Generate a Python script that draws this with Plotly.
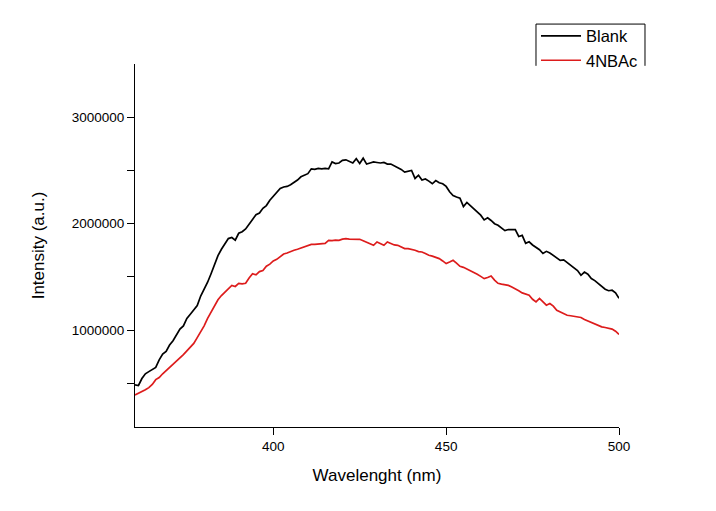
import plotly.graph_objects as go

wavelength = list(range(360, 501))

blank = [
    485000, 480000, 545000, 590000, 610000, 630000, 650000, 720000, 775000, 800000,
    860000, 900000, 950000, 1010000, 1040000, 1110000, 1150000, 1190000, 1230000, 1320000,
    1380000, 1450000, 1530000, 1620000, 1700000, 1760000, 1810000, 1860000, 1870000, 1845000,
    1910000, 1925000, 1950000, 1990000, 2040000, 2085000, 2100000, 2145000, 2170000, 2220000,
    2260000, 2300000, 2330000, 2345000, 2350000, 2365000, 2385000, 2410000, 2440000, 2455000,
    2470000, 2515000, 2510000, 2520000, 2515000, 2520000, 2515000, 2580000, 2565000, 2570000,
    2595000, 2600000, 2585000, 2570000, 2610000, 2565000, 2615000, 2560000, 2570000, 2580000,
    2575000, 2570000, 2575000, 2560000, 2560000, 2545000, 2525000, 2510000, 2485000, 2490000,
    2500000, 2425000, 2455000, 2410000, 2420000, 2400000, 2375000, 2405000, 2385000, 2375000,
    2350000, 2300000, 2265000, 2250000, 2240000, 2160000, 2200000, 2170000, 2140000, 2110000,
    2080000, 2035000, 2055000, 2030000, 2000000, 1985000, 1960000, 1935000, 1945000, 1945000,
    1945000, 1880000, 1890000, 1815000, 1830000, 1800000, 1780000, 1755000, 1720000, 1740000,
    1725000, 1700000, 1680000, 1655000, 1660000, 1635000, 1610000, 1585000, 1560000, 1515000,
    1545000, 1525000, 1485000, 1465000, 1440000, 1415000, 1385000, 1370000, 1375000, 1350000,
    1300000,
]

nbac = [
    390000, 405000, 420000, 440000, 460000, 490000, 535000, 555000, 590000, 620000,
    645000, 680000, 710000, 735000, 770000, 805000, 840000, 875000, 930000, 985000,
    1040000, 1110000, 1170000, 1230000, 1285000, 1325000, 1355000, 1390000, 1420000, 1410000,
    1440000, 1435000, 1440000, 1490000, 1530000, 1520000, 1550000, 1560000, 1600000, 1620000,
    1650000, 1665000, 1690000, 1715000, 1725000, 1740000, 1750000, 1760000, 1770000, 1780000,
    1790000, 1805000, 1805000, 1810000, 1812000, 1815000, 1843000, 1840000, 1845000, 1843000,
    1855000, 1860000, 1855000, 1855000, 1858000, 1853000, 1840000, 1828000, 1810000, 1797000,
    1828000, 1810000, 1797000, 1828000, 1815000, 1800000, 1797000, 1780000, 1766000, 1766000,
    1760000, 1750000, 1738000, 1734000, 1720000, 1703000, 1695000, 1685000, 1672000, 1650000,
    1625000, 1640000, 1656000, 1630000, 1600000, 1590000, 1575000, 1562000, 1540000, 1525000,
    1505000, 1484000, 1495000, 1509000, 1470000, 1440000, 1432000, 1425000, 1420000, 1405000,
    1391000, 1370000, 1350000, 1340000, 1328000, 1290000, 1265000, 1297000, 1270000, 1234000,
    1250000, 1225000, 1187000, 1170000, 1150000, 1140000, 1135000, 1128000, 1122000, 1119000,
    1100000, 1085000, 1075000, 1060000, 1045000, 1031000, 1025000, 1018000, 1010000, 990000,
    960000,
]

x_ticks = [400, 450, 500]
y_ticks = [1000000, 2000000, 3000000]
y_tick_labels = ["1000000", "2000000", "3000000"]
y_minor_ticks = [500000, 1500000, 2500000]

FONT = "Liberation Sans, Arial, sans-serif"

fig = go.Figure()
fig.add_trace(go.Scatter(x=wavelength, y=blank, mode="lines", name="Blank",
                         line=dict(color="#000000", width=1.7)))
fig.add_trace(go.Scatter(x=wavelength, y=nbac, mode="lines", name="4NBAc",
                         line=dict(color="#dd1c1c", width=1.7)))

fig.update_layout(
    width=708, height=503,
    margin=dict(l=127, r=97, t=55, b=84),
    paper_bgcolor="white", plot_bgcolor="white",
    font=dict(family=FONT, color="black", size=13.5),
    showlegend=True,
    legend=dict(x=0.8285, y=1.122, xanchor="left", yanchor="top",
                bgcolor="rgba(0,0,0,0)", borderwidth=0,
                font=dict(size=16.5, family=FONT), itemwidth=40,
                tracegroupgap=0),
    xaxis=dict(range=[360, 500], tickvals=x_ticks, ticks="outside", ticklen=7,
               tickwidth=1, tickcolor="black", showline=True, linecolor="black",
               linewidth=1.2, showgrid=False, zeroline=False, mirror=False,
               tickfont=dict(size=13.5),
               title=dict(text="Wavelenght (nm)", font=dict(size=17), standoff=15)),
    yaxis=dict(range=[90000, 3500000], tickvals=y_ticks, ticktext=y_tick_labels,
               ticks="outside", ticklen=7, tickwidth=1, tickcolor="black",
               showline=True, linecolor="black", linewidth=1.2, showgrid=False,
               zeroline=False, mirror=False, tickfont=dict(size=13.5),
               minor=dict(tickvals=y_minor_ticks, ticks="outside",
                          ticklen=7, tickcolor="black", showgrid=False),
               title=dict(text="Intensity (a.u.)", font=dict(size=17), standoff=22)),
)

# legend frame (open at the bottom, as in the reference)
for x0, y0, x1, y1 in [(0.8285, 1.11, 1.0537, 1.11), (0.8285, 1.11, 0.8285, 0.995),
                       (1.0537, 1.11, 1.0537, 0.995)]:
    fig.add_shape(type="line", xref="paper", yref="paper", x0=x0, y0=y0, x1=x1, y1=y1,
                  line=dict(color="black", width=1))

fig.write_html("out.html")
